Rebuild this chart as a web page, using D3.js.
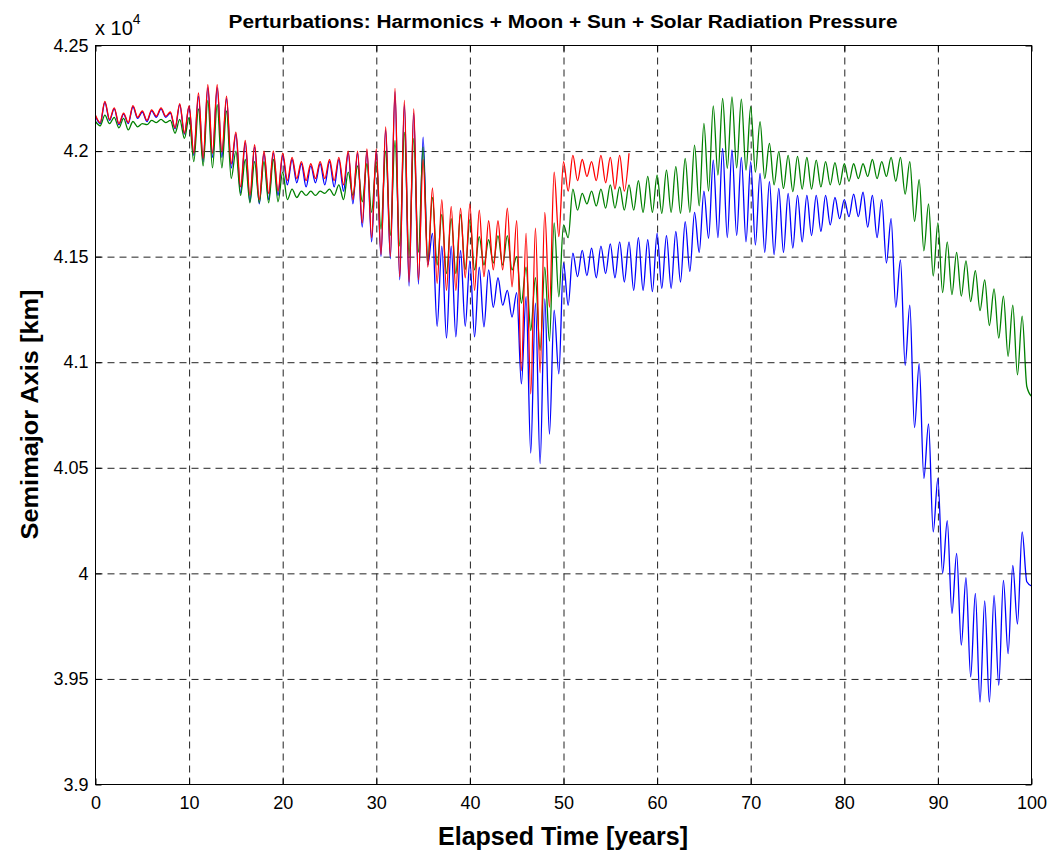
<!DOCTYPE html>
<html>
<head>
<meta charset="utf-8">
<script src="https://cdn.jsdelivr.net/npm/d3@7"></script>
<style>
  body { margin: 0; background: #fff; }
  text { font-family: "Liberation Sans", Arial, sans-serif; }
</style>
</head>
<body>
<svg id="chart" width="1052" height="855"></svg>
<script>
// Semimajor axis (x 10^4 km), one value every half year: peak at k, trough at k + 0.5
const step = 0.5;

const blueA = [
  4.2165,4.213, 4.223,4.2145, 4.22,4.2125, 4.2175,4.213, 4.221,4.2155, 4.2185,4.214, 4.219,4.216, 4.22,4.216, 4.218,4.2105, 4.222,4.208,
  4.221,4.198, 4.226,4.195, 4.23,4.197, 4.23,4.197, 4.225,4.192, 4.208,4.18, 4.204,4.176, 4.202,4.175, 4.199,4.177, 4.199,4.179,
  4.198,4.184, 4.196,4.185, 4.194,4.183, 4.193,4.185, 4.194,4.184, 4.195,4.183, 4.196,4.181, 4.199,4.175, 4.199,4.164, 4.2,4.157,
  4.2,4.15, 4.21,4.149, 4.228,4.139, 4.222,4.136, 4.218,4.137, 4.2066,4.146, 4.161,4.117, 4.155,4.1114, 4.155,4.112, 4.153,4.117,
  4.148,4.112, 4.145,4.1167, 4.1437,4.126, 4.14,4.127, 4.134,4.1214, 4.133,4.0897, 4.131,4.057, 4.128,4.052, 4.13,4.066, 4.1246,4.0945,
  4.147,4.127, 4.1516,4.1405, 4.153,4.141, 4.154,4.14, 4.155,4.142, 4.156,4.14, 4.157,4.138, 4.157,4.134, 4.159,4.134, 4.158,4.1334,
  4.161,4.135, 4.16,4.135, 4.162,4.138, 4.1666,4.143, 4.171,4.152, 4.181,4.1587, 4.1957,4.159, 4.2013,4.159, 4.2005,4.16, 4.197,4.157,
  4.195,4.1555, 4.1894,4.152, 4.1855,4.151, 4.1823,4.152, 4.18,4.154, 4.179,4.157, 4.179,4.16, 4.179,4.162, 4.179,4.165, 4.178,4.168,
  4.177,4.169, 4.1796,4.169, 4.1805,4.164, 4.179,4.159, 4.177,4.147, 4.168,4.126, 4.1485,4.0985, 4.127,4.069, 4.0993,4.045, 4.0708,4.0196,
  4.045,4.0, 4.025,3.981, 4.0095,3.966, 3.998,3.951, 3.9905,3.939, 3.987,3.939, 3.9896,3.947, 3.9967,3.962, 4.0038,3.976, 4.0196,3.996,
  3.994
];

const greenA = [
  4.214,4.212, 4.217,4.213, 4.216,4.211, 4.2155,4.21, 4.214,4.2115, 4.213,4.2125, 4.2145,4.2135, 4.215,4.2135, 4.2145,4.2085, 4.215,4.206,
  4.216,4.195, 4.22,4.193, 4.224,4.192, 4.222,4.192, 4.219,4.187, 4.2,4.179, 4.196,4.1755, 4.195,4.1755, 4.195,4.1755, 4.196,4.176,
  4.19,4.177, 4.182,4.178, 4.181,4.179, 4.181,4.179, 4.181,4.18, 4.182,4.179, 4.184,4.177, 4.19,4.179, 4.193,4.176, 4.194,4.171,
  4.195,4.163, 4.2,4.16, 4.205,4.155, 4.209,4.15, 4.206,4.152, 4.202,4.148, 4.178,4.146, 4.17,4.142, 4.168,4.142, 4.17,4.144,
  4.1675,4.1437, 4.1595,4.146, 4.158,4.147, 4.16,4.146, 4.16,4.1437, 4.15,4.128, 4.145,4.115, 4.14,4.1056, 4.145,4.11, 4.166,4.131,
  4.165,4.159, 4.182,4.172, 4.18,4.175, 4.181,4.174, 4.182,4.173, 4.184,4.173, 4.183,4.172, 4.184,4.172, 4.186,4.171, 4.188,4.171,
  4.1886,4.1705, 4.191,4.171, 4.1926,4.1705, 4.1965,4.171, 4.2028,4.174, 4.2131,4.181, 4.2214,4.1886, 4.2249,4.1918, 4.2257,4.192, 4.2246,4.191,
  4.221,4.19, 4.2139,4.187, 4.2036,4.184, 4.1997,4.1823, 4.198,4.1808, 4.1975,4.182, 4.197,4.182, 4.1957,4.183, 4.195,4.184, 4.1945,4.184,
  4.194,4.1857, 4.194,4.187, 4.194,4.188, 4.196,4.187, 4.195,4.188, 4.197,4.1857, 4.197,4.1796, 4.195,4.1667, 4.1865,4.1528, 4.175,4.1408,
  4.166,4.133, 4.157,4.132, 4.152,4.1313, 4.148,4.1287, 4.1434,4.1244, 4.139,4.1174, 4.1347,4.1114, 4.1313,4.1028, 4.127,4.094, 4.1218,4.0885,
  4.0838
];

const redA = [
  4.217,4.2135, 4.2235,4.215, 4.2205,4.213, 4.218,4.2135, 4.2215,4.216, 4.219,4.2145, 4.2195,4.2165, 4.2205,4.2165, 4.2185,4.211, 4.2225,4.2085,
  4.2215,4.199, 4.2275,4.1965, 4.2315,4.199, 4.2315,4.1995, 4.226,4.194, 4.209,4.183, 4.205,4.179, 4.203,4.177, 4.2,4.18, 4.2,4.181,
  4.199,4.186, 4.197,4.187, 4.195,4.186, 4.194,4.187, 4.195,4.187, 4.196,4.186, 4.197,4.184, 4.2,4.177, 4.2,4.166, 4.201,4.159,
  4.201,4.151, 4.2115,4.15, 4.2297,4.1405, 4.224,4.138, 4.22,4.139, 4.196,4.145, 4.1825,4.1374, 4.177,4.134, 4.1738,4.134, 4.173,4.14,
  4.175,4.134, 4.172,4.1405, 4.167,4.1437, 4.167,4.1437, 4.173,4.1357, 4.167,4.096, 4.161,4.085, 4.1635,4.095, 4.171,4.126, 4.19,4.1595,
  4.195,4.181, 4.198,4.186, 4.196,4.188, 4.195,4.186, 4.198,4.185, 4.197,4.182, 4.198,4.181, 4.199
];

const xTicks = [0, 10, 20, 30, 40, 50, 60, 70, 80, 90, 100];
const yTicks = [3.9, 3.95, 4, 4.05, 4.1, 4.15, 4.2, 4.25];

const svg = d3.select("#chart");
const margin = { top: 45, right: 21, bottom: 71, left: 95 };
const width = +svg.attr("width") - margin.left - margin.right;
const height = +svg.attr("height") - margin.top - margin.bottom;

const g = svg.append("g").attr("transform", `translate(${margin.left + 0.5},${margin.top + 0.5})`);

// Escales
const x = d3.scaleLinear().domain([0, 100]).range([0, width]);
const y = d3.scaleLinear().domain([3.9, 4.25]).range([height, 0]);

// Graella discontinua
g.append("g")
  .attr("transform", `translate(0,${height})`)
  .call(d3.axisBottom(x).tickValues(xTicks.slice(1, -1)).tickSize(-height).tickFormat(""))
  .call(a => a.select(".domain").remove())
  .selectAll("line")
  .attr("stroke", "#222")
  .attr("stroke-dasharray", "7,5");

g.append("g")
  .call(d3.axisLeft(y).tickValues(yTicks.slice(1, -1)).tickSize(-width).tickFormat(""))
  .call(a => a.select(".domain").remove())
  .selectAll("line")
  .attr("stroke", "#222")
  .attr("stroke-dasharray", "7,5");

// Series
const line = d3.line()
  .x((d, i) => x(i * step))
  .y(d => y(d))
  .curve(d3.curveMonotoneX);

[["#0000ff", blueA], ["#008000", greenA], ["#ff0000", redA]].forEach(([c, s]) => {
  g.append("path")
    .datum(s)
    .attr("fill", "none")
    .attr("stroke", c)
    .attr("stroke-width", 1.3)
    .attr("d", line);
});

// Eixos
g.append("g")
  .attr("transform", `translate(0,${height})`)
  .call(d3.axisBottom(x).tickValues(xTicks).tickSizeInner(-6).tickSizeOuter(0).tickPadding(12))
  .call(a => a.select(".domain").remove())
  .selectAll("text")
  .style("font-size", "18px")
  .style("fill", "#000");

g.append("g")
  .call(d3.axisLeft(y).tickValues(yTicks).tickFormat(d3.format("")).tickSizeInner(-6).tickSizeOuter(0).tickPadding(7))
  .call(a => a.select(".domain").remove())
  .selectAll("text")
  .style("font-size", "18px")
  .style("fill", "#000");

g.append("g")
  .call(d3.axisTop(x).tickValues(xTicks).tickSizeInner(-6).tickSizeOuter(0).tickFormat(""))
  .call(a => a.select(".domain").remove());

g.append("g")
  .attr("transform", `translate(${width},0)`)
  .call(d3.axisRight(y).tickValues(yTicks).tickSizeInner(-6).tickSizeOuter(0).tickFormat(""))
  .call(a => a.select(".domain").remove());

g.append("rect")
  .attr("width", width)
  .attr("height", height)
  .attr("fill", "none")
  .attr("stroke", "#000");

// Textos
const e = svg.append("text")
  .attr("x", 95)
  .attr("y", 35)
  .style("font-size", "20px")
  .text("x 10");
e.append("tspan")
  .attr("dy", -11)
  .style("font-size", "14px")
  .text("4");

svg.append("text")
  .attr("x", margin.left + width / 2)
  .attr("y", 28)
  .attr("text-anchor", "middle")
  .style("font-size", "18px")
  .style("font-weight", "bold")
  .attr("textLength", 669)
  .attr("lengthAdjust", "spacingAndGlyphs")
  .text("Perturbations: Harmonics + Moon + Sun + Solar Radiation Pressure");

svg.append("text")
  .attr("x", margin.left + width / 2)
  .attr("y", 845)
  .attr("text-anchor", "middle")
  .style("font-size", "26px")
  .style("font-weight", "bold")
  .attr("textLength", 250)
  .attr("lengthAdjust", "spacingAndGlyphs")
  .text("Elapsed Time [years]");

svg.append("text")
  .attr("transform", `translate(38,${margin.top + height / 2}) rotate(-90)`)
  .attr("text-anchor", "middle")
  .style("font-size", "23px")
  .style("font-weight", "bold")
  .attr("textLength", 250)
  .attr("lengthAdjust", "spacingAndGlyphs")
  .text("Semimajor Axis [km]");
</script>
</body>
</html>
